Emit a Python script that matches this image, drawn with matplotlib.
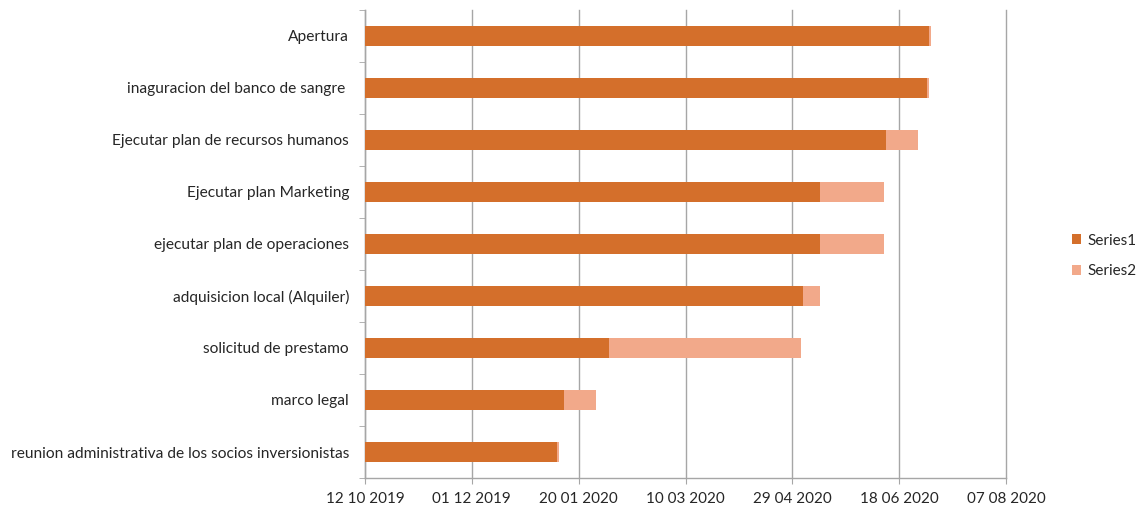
import datetime as dt
import matplotlib
matplotlib.use("Agg")
import matplotlib.pyplot as plt
import matplotlib.dates as mdates
from matplotlib.ticker import FixedLocator, NullFormatter

plt.rcParams['font.family'] = ['Lato', 'DejaVu Sans']

tasks = [
    "reunion administrativa de los socios inversionistas",
    "marco legal",
    "solicitud de prestamo",
    "adquisicion local (Alquiler)",
    "ejecutar plan de operaciones",
    "Ejecutar plan Marketing",
    "Ejecutar plan de recursos humanos",
    "inaguracion del banco de sangre ",
    "Apertura",
]
start_dates = [
    "2020-01-10", "2020-01-13", "2020-02-03", "2020-05-04", "2020-05-12",
    "2020-05-12", "2020-06-12", "2020-07-01", "2020-07-02",
]
durations = [1, 15, 90, 8, 30, 30, 15, 1, 1]

axis_min = "2019-10-12"
axis_max = "2020-08-07"
tick_step_days = 50

c1 = "#D46F2B"
c2 = "#F2A98A"
grid_c = "#A6A6A6"
text_c = "#262626"

def num(s):
    return mdates.date2num(dt.datetime.strptime(s, "%Y-%m-%d"))

xmin, xmax = num(axis_min), num(axis_max)
starts = [num(s) for s in start_dates]

fig = plt.figure(figsize=(11.42, 5.14), dpi=100)
ax = fig.add_axes([365 / 1142, 1 - 478 / 514, (1006 - 365) / 1142, (478 - 10) / 514])

y = list(range(len(tasks)))
h = 0.4
ax.barh(y, [s - xmin for s in starts], left=xmin, height=h, color=c1, label="Series1", zorder=3)
ax.barh(y, durations, left=starts, height=h, color=c2, label="Series2", zorder=3)

ax.set_xlim(xmin, xmax)
ax.set_ylim(-0.5, len(tasks) - 0.5)

ticks = []
t = xmin
while t <= xmax + 0.1:
    ticks.append(t)
    t += tick_step_days
ax.set_xticks(ticks)
ax.set_xticklabels([mdates.num2date(v).strftime("%d %m %Y") for v in ticks])
ax.xaxis.grid(True, color=grid_c, linewidth=1, zorder=0)
for gl in ax.get_xgridlines():
    gl.set_clip_on(False)
ax.set_yticks(y)
ax.set_yticklabels(tasks)
ax.yaxis.set_minor_locator(FixedLocator([i - 0.5 for i in range(len(tasks) + 1)]))
ax.yaxis.set_minor_formatter(NullFormatter())

for side in ("top", "right"):
    ax.spines[side].set_visible(False)
for side in ("left", "bottom"):
    ax.spines[side].set_color(grid_c)
    ax.spines[side].set_linewidth(1)

ax.tick_params(axis="y", which="major", length=0, pad=11.5, labelsize=11.2, labelcolor=text_c)
ax.tick_params(axis="y", which="minor", length=4, color=grid_c)
ax.tick_params(axis="x", length=4, color=grid_c, pad=6, labelsize=11, labelcolor=text_c)

handles, labels = ax.get_legend_handles_labels()
fig.legend(handles, labels, loc="center left", bbox_to_anchor=(1058 / 1142, 1 - 256 / 514),
           frameon=False, fontsize=11, handlelength=0.6, handleheight=0.6,
           handletextpad=0.4, labelspacing=1.1, labelcolor=text_c)

fig.savefig("out.png", dpi=100)
